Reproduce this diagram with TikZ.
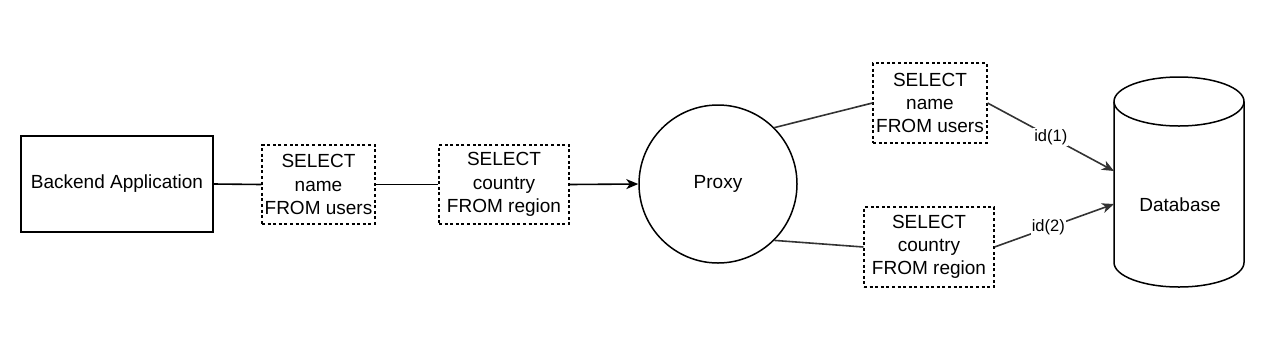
\documentclass[tikz,border=0pt]{standalone}
\usepackage{fontspec}
\setmainfont{Liberation Sans}
\usetikzlibrary{arrows.meta}
\begin{document}
\begin{tikzpicture}[x=1pt,y=-1pt,
  txt/.style={font=\fontsize{19}{23.3}\selectfont, align=center, inner sep=0pt},
  solidbox/.style={txt, draw, line width=1.5pt},
  dashbox/.style={txt, draw, line width=1.1pt, dash pattern=on 3pt off 2.6pt},
  conn/.style={line width=1.6pt, draw=black},
  grayconn/.style={line width=1.6pt, draw=black!80},
  tip/.style={-{Stealth[length=12pt,width=10pt,inset=3.5pt]}},
  lbl/.style={font=\fontsize{16.5}{18}\selectfont, fill=white, inner sep=1pt, text=black}
]
\useasboundingbox (0,0) rectangle (1280,357);

\node[solidbox, minimum width=192pt, minimum height=96pt] (backend) at (117,184) {Backend Application};
\node[dashbox, minimum width=113pt, minimum height=79pt] (q1) at (318.5,184.5) {SELECT\\name\\FROM users};
\node[dashbox, minimum width=130pt, minimum height=79pt] (q2) at (504,184.5) {SELECT\\country\\FROM region};
\node[txt, draw, circle, line width=1.5pt, minimum size=158pt] (proxy) at (718,184) {Proxy};
\node[dashbox, minimum width=114pt, minimum height=80pt] (q3) at (930,103) {SELECT\\name\\FROM users};
\node[dashbox, minimum width=130pt, minimum height=80pt] (q4) at (929,247) {SELECT\\country\\FROM region};

% database cylinder
\draw[line width=1.5pt] (1114,101.5) -- (1114,262.5)
  arc[start angle=180, end angle=360, x radius=65pt, y radius=24.5pt] -- (1244,101.5);
\draw[line width=1.5pt, fill=white] (1179,101.5) ellipse [x radius=65pt, y radius=24.5pt];
\node[txt] (db) at (1180,205) {Database};
\coordinate (dbin1) at (1114,171);
\coordinate (dbin2) at (1114,204);

\draw[conn] (backend.east) -- (q1.west);
\draw[conn] (q1.east) -- (q2.west);
\draw[conn, tip] (q2.east) -- (proxy.west);
\draw[grayconn] (proxy.45) -- (q3.west);
\draw[grayconn] (proxy.-45) -- (q4.west);
\draw[grayconn, tip] (q3.east) -- node[lbl, pos=0.5] (l1) {id(1)} (dbin1);
\draw[grayconn, tip] (q4.east) -- node[lbl, pos=0.45] (l2) {id(2)} (dbin2);
\end{tikzpicture}
\end{document}
